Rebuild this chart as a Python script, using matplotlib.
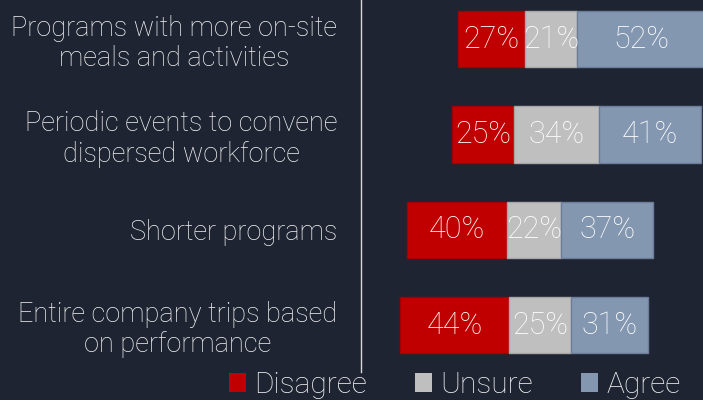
import numpy as np
import matplotlib.pyplot as plt
from matplotlib.patches import Patch

# survey data (percent)
categories = ["Programs with more on-site\nmeals and activities",
              "Periodic events to convene\ndispersed workforce",
              "Shorter programs",
              "Entire company trips based\non performance"]
lead = [39.1, 36.8, 18.6, 15.7]  # invisible spacer before the first segment
disagree = [27, 25, 40, 44]
unsure = [21, 34, 22, 25]
agree = [52, 41, 37, 31]
series_names = ["Disagree", "Unsure", "Agree"]

bg = '#1f2433'
colors = ['#c00000', '#bfbfbf', '#8497b0']
edges = ['#a50000', '#a6a6a6', '#6b7d98']
txt = '#f2f2f2'

plt.rcParams['font.family'] = ['Roboto', 'DejaVu Sans']

fig = plt.figure(figsize=(7.03, 4.00), dpi=100, facecolor=bg)
ax = fig.add_axes([361 / 703, 1 - 372 / 400, 1 - 361 / 703, 372 / 400])
ax.set_facecolor(bg)

y = np.arange(len(categories))
left = np.array(lead, dtype=float)
for vals, c, ec in zip([disagree, unsure, agree], colors, edges):
    vals = np.array(vals, dtype=float)
    bars = ax.barh(y, vals, left=left, height=0.59, color=c, edgecolor=ec, linewidth=1)
    for b, v in zip(bars, vals):
        ax.text(b.get_x() + b.get_width() / 2, b.get_y() + b.get_height() / 2,
                f"{v:.0f}%", ha='center', va='center', color='white',
                fontsize=22, fontweight='light')
    left += vals

ax.set_xlim(0, (703 - 361) / 2.483)
ax.set_ylim(3.49, -0.41)
ax.set_xticks([])
ax.set_yticks(y)
ax.set_yticklabels(categories, fontsize=19.5, fontweight='light', color=txt,
                   multialignment='center', linespacing=1.15)
ax.tick_params(axis='y', length=0, pad=17)

for s in ['top', 'right', 'bottom']:
    ax.spines[s].set_visible(False)
ax.spines['left'].set_color('#d9d9d9')
ax.spines['left'].set_linewidth(1)

handles = [Patch(facecolor=c, edgecolor='none') for c in colors]
leg = fig.legend(handles, series_names, loc='center', bbox_to_anchor=(0.647, 0.038),
                 ncol=3, frameon=False, fontsize=21.5, handlelength=0.58,
                 handleheight=0.58, handletextpad=0.27, columnspacing=1.6,
                 borderpad=0, borderaxespad=0)
for t in leg.get_texts():
    t.set_color(txt)
    t.set_fontweight('light')

fig.savefig('out.png', dpi=100, facecolor=bg)
